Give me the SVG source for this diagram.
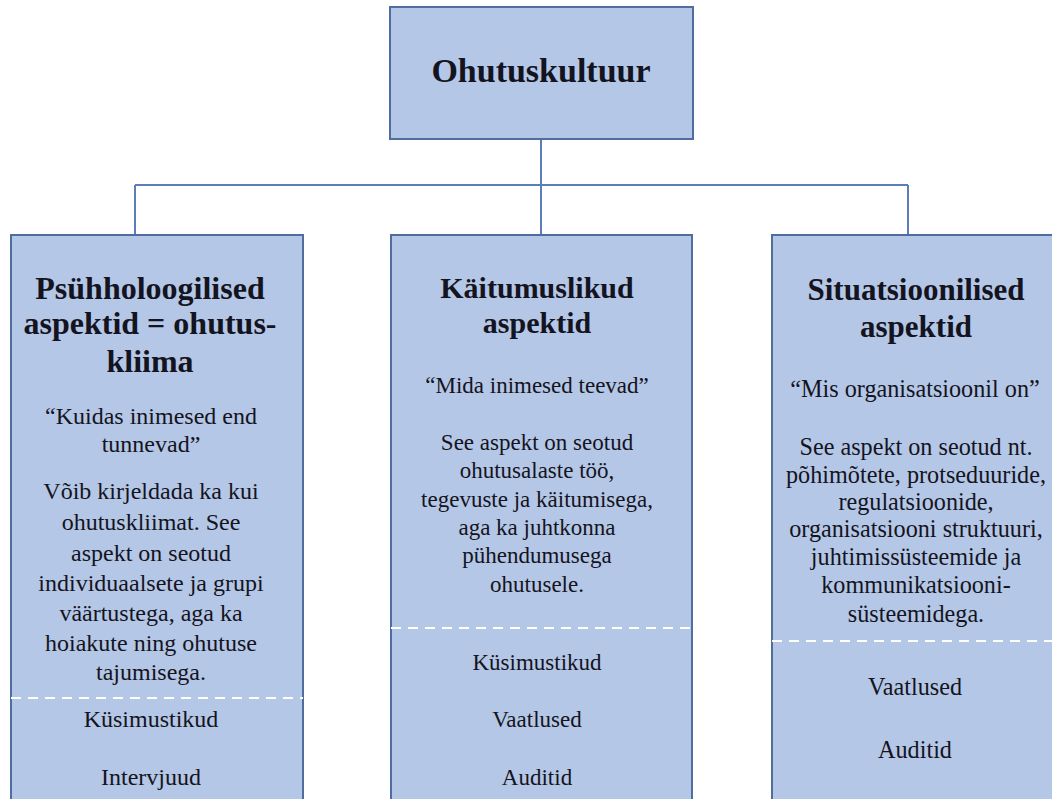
<svg xmlns="http://www.w3.org/2000/svg" width="1052" height="799" viewBox="0 0 1052 799" font-family="Liberation Serif, DejaVu Serif, serif">
<style>
.box{fill:#b4c7e7;stroke:#4f6d9e;stroke-width:2}
.con{fill:none;stroke:#5a7fb8;stroke-width:2}
.dash{stroke:#ffffff;stroke-width:2;stroke-dasharray:10 7}
text{fill:#141420;text-anchor:middle}
.t{font-size:34px;font-weight:bold}
.h{font-size:30px;font-weight:bold}
.b{font-size:23px}
#n-left .h{font-size:32px}
#n-left .b{font-size:24px}
#n-right .h{font-size:31px}
#n-right .b{font-size:24.2px}
</style>
<rect width="1052" height="799" fill="#ffffff"/>
<g id="connectors">
<path class="con" d="M541 139V235M135 185H908M135 185V235M908 185V235"/>
</g>
<g id="n-top">
<rect class="box" x="390" y="7" width="303" height="132"/>
<text class="t" x="541" y="82">Ohutuskultuur</text>
</g>
<g id="n-left">
<rect class="box" x="11" y="235" width="292" height="580"/>
<line class="dash" x1="11" y1="698" x2="303" y2="698"/>
<text class="h" x="150" y="299">Psühholoogilised</text>
<text class="h" x="150" y="334">aspektid = ohutus-</text>
<text class="h" x="150" y="372">kliima</text>
<text class="b" x="151" y="424">“Kuidas inimesed end</text>
<text class="b" x="151" y="452">tunnevad”</text>
<text class="b" x="151" y="499">Võib kirjeldada ka kui</text>
<text class="b" x="151" y="530">ohutuskliimat. See</text>
<text class="b" x="151" y="561">aspekt on seotud</text>
<text class="b" x="151" y="591">individuaalsete ja grupi</text>
<text class="b" x="151" y="621">väärtustega, aga ka</text>
<text class="b" x="151" y="651">hoiakute ning ohutuse</text>
<text class="b" x="151" y="680">tajumisega.</text>
<text class="b" x="151" y="727">Küsimustikud</text>
<text class="b" x="151" y="785">Intervjuud</text>
</g>
<g id="n-mid">
<rect class="box" x="391" y="235" width="301" height="580"/>
<line class="dash" x1="391" y1="628" x2="692" y2="628"/>
<text class="h" x="537" y="298">Käitumuslikud</text>
<text class="h" x="537" y="333">aspektid</text>
<text class="b" x="537" y="393">“Mida inimesed teevad”</text>
<text class="b" x="537" y="450">See aspekt on seotud</text>
<text class="b" x="537" y="478">ohutusalaste töö,</text>
<text class="b" x="537" y="507">tegevuste ja käitumisega,</text>
<text class="b" x="537" y="535">aga ka juhtkonna</text>
<text class="b" x="537" y="563">pühendumusega</text>
<text class="b" x="537" y="592">ohutusele.</text>
<text class="b" x="537" y="670">Küsimustikud</text>
<text class="b" x="537" y="727">Vaatlused</text>
<text class="b" x="537" y="785">Auditid</text>
</g>
<g id="n-right">
<rect class="box" x="772" y="235" width="301" height="580"/>
<line class="dash" x1="772" y1="641" x2="1052" y2="641"/>
<text class="h" x="916" y="300">Situatsioonilised</text>
<text class="h" x="916" y="337">aspektid</text>
<text class="b" x="915" y="397">“Mis organisatsioonil on”</text>
<text class="b" x="916" y="455">See aspekt on seotud nt.</text>
<text class="b" x="916" y="483">põhimõtete, protseduuride,</text>
<text class="b" x="916" y="510">regulatsioonide,</text>
<text class="b" x="916" y="537">organisatsiooni struktuuri,</text>
<text class="b" x="916" y="565">juhtimissüsteemide ja</text>
<text class="b" x="916" y="593">kommunikatsiooni-</text>
<text class="b" x="916" y="622">süsteemidega.</text>
<text class="b" x="915" y="695">Vaatlused</text>
<text class="b" x="915" y="758">Auditid</text>
</g>
</svg>
